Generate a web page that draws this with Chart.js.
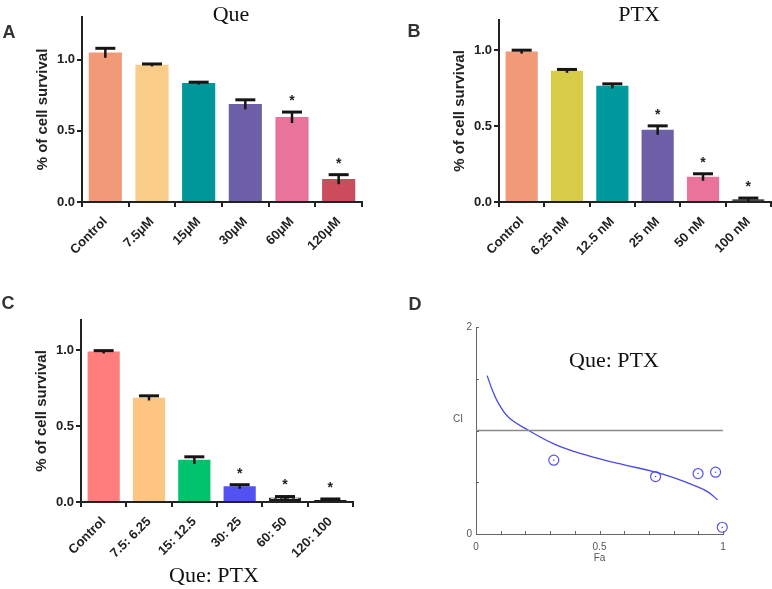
<!DOCTYPE html>
<html>
<head>
<meta charset="utf-8">
<script src="https://cdn.jsdelivr.net/npm/chart.js@4.4.0/dist/chart.umd.min.js"></script>
<style>
  body { margin: 0; background: #fff; }
  #wrap { position: relative; width: 772px; height: 589px; overflow: hidden; }
  .panel { position: absolute; }
  .lbl { position: absolute; transform: translate(-50%, -50%); line-height: 1; white-space: nowrap; }
  .letter { font: bold 18px "Liberation Sans", Arial, sans-serif; color: #333; }
  .serif { font: 22px "Liberation Serif", "Times New Roman", serif; color: #111; }
  .small { font: 10px "Liberation Sans", Arial, sans-serif; color: #555; }
</style>
</head>
<body>
<div id="wrap">
  <canvas id="chartA" class="panel" width="386" height="290" style="left:0;top:0"></canvas>
  <canvas id="chartB" class="panel" width="386" height="290" style="left:386px;top:0"></canvas>
  <canvas id="chartC" class="panel" width="386" height="299" style="left:0;top:290px"></canvas>
  <canvas id="chartD" class="panel" width="386" height="299" style="left:386px;top:290px"></canvas>

  <div class="lbl letter" style="left:9px;top:32px">A</div>
  <div class="lbl letter" style="left:414px;top:31px">B</div>
  <div class="lbl letter" style="left:8px;top:303px">C</div>
  <div class="lbl letter" style="left:415px;top:304px">D</div>

  <div class="lbl serif" style="left:231px;top:14px">Que</div>
  <div class="lbl serif" style="left:639px;top:14px">PTX</div>
  <div class="lbl serif" style="left:214px;top:575px">Que: PTX</div>
  <div class="lbl serif" style="left:614px;top:360px">Que: PTX</div>
  <div class="lbl small" style="left:458px;top:418px">CI</div>
</div>

<script>
// Panel A - Que alone
const labelsA = ['Control', '7.5\u03bcM', '15\u03bcM', '30\u03bcM', '60\u03bcM', '120\u03bcM'];
const valuesA = [1.05, 0.965, 0.837, 0.688, 0.597, 0.162];
const errorsA = [0.03, 0.005, 0.005, 0.03, 0.035, 0.03];
const starsA = [false, false, false, false, true, true];

// Panel B - PTX alone
const labelsB = ['Control', '6.25 nM', '12.5 nM', '25 nM', '50 nM', '100 nM'];
const valuesB = [0.993, 0.866, 0.767, 0.476, 0.166, 0.018];
const errorsB = [0.008, 0.008, 0.012, 0.026, 0.02, 0.008];
const starsB = [false, false, false, true, true, true];

// Panel C - combination
const labelsC = ['Control', '7.5: 6.25', '15: 12.5', '30: 25', '60: 50', '120: 100'];
const valuesC = [0.992, 0.688, 0.278, 0.104, 0.030, 0.014];
const errorsC = [0.006, 0.012, 0.02, 0.01, 0.006, 0.006];
const starsC = [false, false, false, true, true, true];

const yTicksBar = [0, 0.5, 1.0];

// Panel D - combination index vs fraction affected
const curveFa = [0.045, 0.068, 0.094, 0.135, 0.214, 0.311, 0.40, 0.516, 0.60, 0.719, 0.80, 0.895, 0.94, 0.978];
const curveCI = [1.53, 1.38, 1.25, 1.12, 1.00, 0.875, 0.795, 0.716, 0.668, 0.603, 0.545, 0.458, 0.405, 0.33];
const pointFa = [0.315, 0.727, 0.899, 0.97, 0.997];
const pointCI = [0.713, 0.555, 0.584, 0.597, 0.065];
const additiveLine = [0, 1];   // Fa range of the CI = 1 reference line

Chart.defaults.font.family = '"Liberation Sans", Arial, sans-serif';
Chart.defaults.animation = false;

function hatchPattern() {
  const c = document.createElement('canvas');
  c.width = 6; c.height = 5;
  const g = c.getContext('2d');
  g.fillStyle = '#1a1a1a';
  g.fillRect(0, 0, 6, 5);
  g.fillStyle = '#ffffff';
  g.fillRect(1, 2, 3, 2);
  return g.createPattern(c, 'repeat');
}

const colorsA = ['#f29a78', '#f9cd88', '#00979b', '#6d60a8', '#e8749b', '#cc4b5d'];
const colorsB = ['#f29a78', '#d6cc48', '#00999e', '#6d60a8', '#e8749b', hatchPattern()];
const colorsC = ['#ff7d7d', '#fdc581', '#00c36c', '#5252f2', hatchPattern(), '#1a1a1a'];

const errorBarPlugin = {
  id: 'errorBars',
  afterDatasetsDraw(chart, args, opts) {
    const meta = chart.getDatasetMeta(0);
    const y = chart.scales.y;
    const ctx = chart.ctx;
    const vals = chart.data.datasets[0].data;
    ctx.save();
    ctx.strokeStyle = '#151515';
    ctx.fillStyle = '#222';
    meta.data.forEach((bar, i) => {
      const v = vals[i], e = opts.errors[i];
      const top = y.getPixelForValue(v + e);
      const bot = y.getPixelForValue(Math.max(0, v - e));
      ctx.lineWidth = 2.5;
      ctx.beginPath();
      ctx.moveTo(bar.x, top);
      ctx.lineTo(bar.x, bot + 1);
      ctx.stroke();
      ctx.lineWidth = 3;
      ctx.beginPath();
      ctx.moveTo(bar.x - 10, top);
      ctx.lineTo(bar.x + 10, top);
      ctx.stroke();
      if (opts.stars[i]) {
        ctx.font = 'bold 14px "Liberation Sans", Arial, sans-serif';
        ctx.textAlign = 'center';
        ctx.textBaseline = 'middle';
        ctx.fillText('*', bar.x, top - 11);
      }
    });
    ctx.restore();
  }
};

function barChart(id, labels, values, errors, stars, colors, yMax, area, H) {
  return new Chart(document.getElementById(id), {
    type: 'bar',
    data: {
      labels: labels,
      datasets: [{
        data: values,
        backgroundColor: colors,
        borderColor: '#1a1a1a',
        borderWidth: colors.map(c => (typeof c === 'string' ? 0 : 1)),
        categoryPercentage: 1,
        barPercentage: 0.71
      }]
    },
    options: {
      responsive: false,
      devicePixelRatio: 1,
      layout: { padding: { top: area.top, right: 386 - area.right, left: 0, bottom: 0 } },
      plugins: {
        legend: { display: false },
        tooltip: { enabled: false },
        errorBars: { errors: errors, stars: stars }
      },
      scales: {
        x: {
          grid: { drawOnChartArea: false, color: '#222', lineWidth: 2, tickLength: 5, offset: true },
          border: { color: '#222', width: 2 },
          ticks: {
            color: '#222', font: { size: 13, weight: 'bold' },
            minRotation: 45, maxRotation: 45, autoSkip: false, padding: 7
          },
          afterFit: s => { s.height = H - area.bottom; }
        },
        y: {
          min: 0, max: yMax,
          grid: { drawOnChartArea: false, color: '#222', lineWidth: 2, tickLength: 5 },
          border: { color: '#222', width: 2 },
          afterBuildTicks: s => { s.ticks = yTicksBar.map(v => ({ value: v })); },
          ticks: {
            color: '#222', font: { size: 13, weight: 'bold' }, padding: 2,
            callback: v => v.toFixed(1)
          },
          title: {
            display: true, text: '% of cell survival', color: '#222',
            font: { size: 15, weight: 'bold' }, padding: { top: area.titleX - 9, bottom: 0 }
          },
          afterFit: s => { s.width = area.left; }
        }
      }
    },
    plugins: [errorBarPlugin]
  });
}

barChart('chartA', labelsA, valuesA, errorsA, starsA, colorsA, 1.3,
  { left: 82, right: 362, top: 17, bottom: 202, titleX: 43 }, 290);
barChart('chartB', labelsB, valuesB, errorsB, starsB, colorsB, 1.2,
  { left: 113, right: 385, top: 20, bottom: 202, titleX: 74 }, 290);
barChart('chartC', labelsC, valuesC, errorsC, starsC, colorsC, 1.2,
  { left: 81, right: 353, top: 30, bottom: 212, titleX: 42 }, 299);

// inward tick marks for panel D
const innerTicks = {
  id: 'innerTicks',
  afterDraw(chart) {
    const { ctx, scales: { x, y }, chartArea: a } = chart;
    ctx.save();
    ctx.strokeStyle = '#666';
    ctx.lineWidth = 1;
    x.ticks.forEach(t => {
      const px = Math.round(x.getPixelForValue(t.value)) + 0.5;
      ctx.beginPath(); ctx.moveTo(px, a.bottom); ctx.lineTo(px, a.bottom - 3); ctx.stroke();
    });
    y.ticks.forEach(t => {
      const py = Math.round(y.getPixelForValue(t.value)) + 0.5;
      ctx.beginPath(); ctx.moveTo(a.left, py); ctx.lineTo(a.left + 3, py); ctx.stroke();
    });
    ctx.restore();
  }
};

const half = v => Math.abs(v * 2 - Math.round(v * 2)) < 1e-6;

new Chart(document.getElementById('chartD'), {
  type: 'scatter',
  data: {
    datasets: [
      {
        data: additiveLine.map(f => ({ x: f, y: 1 })),
        showLine: true, borderColor: '#8a8a8a', borderWidth: 1.5, pointRadius: 0
      },
      {
        data: curveFa.map((f, i) => ({ x: f, y: curveCI[i] })),
        showLine: true, borderColor: '#4a4ae6', borderWidth: 1.3, pointRadius: 0,
        tension: 0.4
      },
      {
        data: pointFa.map((f, i) => ({ x: f, y: pointCI[i] })),
        pointRadius: 5, pointBorderColor: '#5555e8', pointBorderWidth: 1.2,
        pointBackgroundColor: 'rgba(0,0,0,0)', clip: false
      },
      {
        data: pointFa.map((f, i) => ({ x: f, y: pointCI[i] })),
        pointRadius: 0.8, pointBorderWidth: 0, pointBackgroundColor: '#5555e8', clip: false
      }
    ]
  },
  options: {
    responsive: false,
    devicePixelRatio: 1,
    layout: { padding: { top: 37, right: 49, left: 0, bottom: 25 } },
    plugins: { legend: { display: false }, tooltip: { enabled: false } },
    scales: {
      x: {
        type: 'linear', min: 0, max: 1,
        grid: { display: false, drawTicks: false },
        border: { color: '#666', width: 1 },
        ticks: {
          stepSize: 0.1, autoSkip: false, maxRotation: 0, color: '#555', padding: 7,
          font: { size: 10 }, callback: v => (half(v) ? String(Math.round(v * 2) / 2) : '')
        },
        title: { display: true, text: 'Fa', color: '#555', font: { size: 10 }, padding: 0 },
        afterFit: s => { s.height = 30; }
      },
      y: {
        min: 0, max: 2,
        grid: { display: false, drawTicks: false },
        border: { color: '#666', width: 1 },
        ticks: {
          stepSize: 0.5, color: '#555', padding: 4, font: { size: 10 },
          callback: v => (v === 0 || v === 2 ? String(v) : '')
        },
        afterFit: s => { s.width = 90; }
      }
    }
  },
  plugins: [innerTicks]
});
</script>
</body>
</html>
